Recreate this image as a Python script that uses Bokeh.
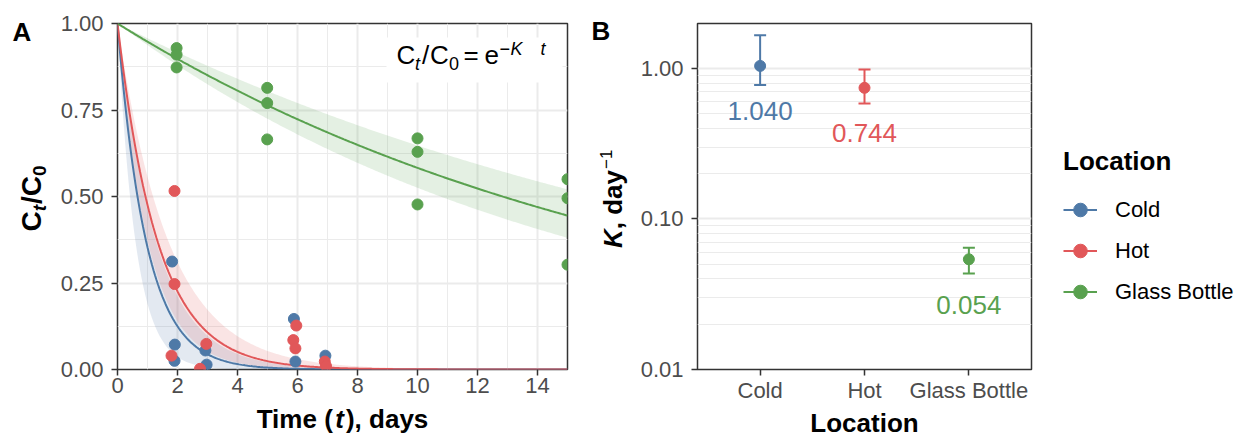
import numpy as np
from math import pi, log10
from bokeh.plotting import figure
from bokeh.layouts import row
from bokeh.models import (Range1d, FactorRange, FixedTicker, PrintfTickFormatter, Label,
                          Legend, LegendItem, ColumnDataSource, BoxAnnotation)
from bokeh.core.properties import value
from bokeh.embed import file_html
from bokeh.resources import INLINE

# ---------------- data ----------------
locations = ["Cold", "Hot", "Glass Bottle"]
colors = ["#4E79A7", "#E15759", "#59A14F"]
k_est = [1.040, 0.744, 0.054]
k_lo = [0.776, 0.585, 0.0435]
k_hi = [1.66, 0.985, 0.0644]
k_text = ["1.040", "0.744", "0.054"]

cold_t = [1.82, 1.91, 1.90, 2.93, 2.97, 5.88, 5.93, 6.93]
cold_ratio = [0.312, 0.072, 0.025, 0.055, 0.014, 0.146, 0.023, 0.040]
hot_t = [1.90, 1.90, 1.80, 2.96, 2.75, 5.96, 5.86, 5.93, 6.91, 6.95]
hot_ratio = [0.516, 0.247, 0.040, 0.074, 0.002, 0.127, 0.085, 0.061, 0.023, 0.010]
glass_t = [1.97, 1.97, 1.97, 4.99, 4.99, 4.99, 10.0, 10.0, 10.0, 15.0, 15.0, 15.0]
glass_ratio = [0.929, 0.910, 0.873, 0.814, 0.770, 0.665, 0.668, 0.629, 0.477, 0.550, 0.495, 0.303]

x_ticks_a = [0, 2, 4, 6, 8, 10, 12, 14]
x_minor_a = [1, 3, 5, 7, 9, 11, 13, 15]
y_ticks_a = [0.0, 0.25, 0.5, 0.75, 1.0]
y_minor_a = [0.125, 0.375, 0.625, 0.875]
y_ticks_b = [0.01, 0.1, 1.0]
y_minor_b = [0.02, 0.03, 0.04, 0.05, 0.06, 0.07, 0.08, 0.09,
             0.2, 0.3, 0.4, 0.5, 0.6, 0.7, 0.8, 0.9]

FONT = "Liberation Sans"
TICK_COL = "#4D4D4D"
GRID_COL = "#EBEBEB"
BORDER_COL = "#333333"

# ---------------- geometry (page px) ----------------
A_LEFT, A_W, TOP, H = 117, 450, 23, 346
A_BL, A_BR, BT, BB = 117, 18, 23, 66
B_BL, B_W, B_BR = 112, 334, 194
B_LEFT = A_BL + A_W + A_BR + B_BL
BOTTOM = TOP + H
XA_MAX = 15.0
YB_MIN, YB_MAX = 0.01, 1.99
XB_START, XB_END = -0.1, 3.1
BASE_FIX = 0.37   # label anchor vs. alphabetic baseline, in em


def fxa(px):
    return (px - A_LEFT) * XA_MAX / A_W


def fya(py):
    return (BOTTOM - py) / H


def fxb(px):
    return XB_START + (px - B_LEFT) * (XB_END - XB_START) / B_W


def fyb(py):
    return 10 ** (log10(YB_MIN) + (BOTTOM - py) / H * log10(YB_MAX / YB_MIN))


WID = {
    "normal": {"C": .722, "t": .278, "/": .278, "0": .556, "=": .584, "e": .556, "\u2212": .584,
               "K": .667, " ": .278, "1": .556},
    "bold": {"C": .722, "t": .333, "/": .278, "0": .556, "K": .722, ",": .278, " ": .278, "d": .611,
             "a": .556, "y": .556, "T": .611, "i": .278, "m": .889, "e": .556, "(": .333, ")": .333,
             "s": .556},
}


def adv(text, size, style):
    tab = WID["bold"] if "bold" in style else WID["normal"]
    return sum(tab.get(c, .556) for c in text) * size


def make_label(fx, fy, sx, sy, text, size, style, vertical=False, color="black"):
    if vertical:
        sx = sx - BASE_FIX * size
    else:
        sy = sy - BASE_FIX * size
    return Label(x=fx(sx), y=fy(sy), text=text, angle=pi / 2 if vertical else 0,
                 text_font=FONT, text_font_size=f"{size}px", text_font_style=style,
                 text_color=color, text_align="left", text_baseline="alphabetic")


def rich(p, fx, fy, x0, y0, pieces, place, vertical=False):
    pos = 0.0
    for text, size, style, shift, gap in pieces:
        pos += gap
        if vertical:
            sx, sy = x0 + shift, y0 - pos
        else:
            sx, sy = x0 + pos, y0 + shift
        p.add_layout(make_label(fx, fy, sx, sy, text, size, style, vertical), place)
        pos += adv(text, size, style)


def style_axes(p):
    for ax in (p.xaxis, p.yaxis):
        ax.axis_line_color = None
        ax.major_tick_line_color = BORDER_COL
        ax.major_tick_line_width = 1.5
        ax.major_tick_out = 6
        ax.major_tick_in = 0
        ax.minor_tick_line_color = None
        ax.major_label_text_font = FONT
        ax.major_label_text_font_size = "22px"
        ax.major_label_text_color = TICK_COL
    p.xaxis.major_label_standoff = 2
    p.yaxis.major_label_standoff = 8
    p.outline_line_color = BORDER_COL
    p.outline_line_width = 1.5
    p.outline_line_alpha = 1


# ---------------- panel A ----------------
pa = figure(x_range=Range1d(0, XA_MAX), y_range=Range1d(0, 1), frame_width=A_W, frame_height=H,
            min_border_left=A_BL, min_border_right=A_BR, min_border_top=BT, min_border_bottom=BB,
            output_backend="svg", toolbar_location=None)
style_axes(pa)
xt = FixedTicker(ticks=x_ticks_a, minor_ticks=x_minor_a)
yt = FixedTicker(ticks=y_ticks_a, minor_ticks=y_minor_a)
pa.xaxis.ticker = xt
pa.xgrid.ticker = xt
pa.yaxis.ticker = yt
pa.ygrid.ticker = yt
pa.yaxis.formatter = PrintfTickFormatter(format="%.2f")
for g in (pa.xgrid, pa.ygrid):
    g.grid_line_color = GRID_COL
    g.grid_line_width = 2
    g.minor_grid_line_color = GRID_COL
    g.minor_grid_line_width = 1

t_fine = np.linspace(0, XA_MAX, 301)
for k, lo, hi, c in zip(k_est, k_lo, k_hi, colors):
    pa.varea(x=t_fine, y1=np.exp(-hi * t_fine), y2=np.exp(-lo * t_fine), fill_color=c, fill_alpha=0.16)
for k, c in zip(k_est, colors):
    pa.line(t_fine, np.exp(-k * t_fine), line_color=c, line_width=2)
for ts, rs, c in zip([cold_t, hot_t, glass_t], [cold_ratio, hot_ratio, glass_ratio], colors):
    pa.scatter(ts, rs, size=11, fill_color=c, line_color=c)

# equation with white background (inside the frame)
pa.add_layout(BoxAnnotation(left=fxa(386), right=fxa(562), bottom=fya(82), top=fya(37),
                            fill_color="white", fill_alpha=1, line_color=None))
eq_pieces = [("C", 396, 64, 26, "normal"), ("t", 414.5, 70, 18, "italic"), ("/", 421.5, 64, 26, "normal"),
             ("C", 429.5, 64, 26, "normal"), ("0", 448.5, 70, 18, "normal"), ("=", 463, 64, 26, "normal"),
             ("e", 484, 64, 26, "normal"), ("\u2212", 499, 55, 18, "normal"),
             ("K", 510, 55, 18, "italic"), ("t", 540, 55, 18, "italic")]
for text, px, py, size, style in eq_pieces:
    pa.add_layout(make_label(fxa, fya, px, py, text, size, style))

# outer texts of A: kept in the bottom side panel (not clipped, frame unaffected)
xa_title = [("Time (", 26, "bold", 0, 0), ("t", 26, "bold italic", 0, 2), ("), days", 26, "bold", 0, 2)]
xa_w = sum(adv(t, s, st) + g for t, s, st, _, g in xa_title)
rich(pa, fxa, fya, A_LEFT + A_W / 2 - xa_w / 2, 428.5, xa_title, "below")
ya_title = [("C", 28, "bold", 0, 0), ("t", 19, "bold italic", 4, 0), ("/", 28, "bold", 0, 1),
            ("C", 28, "bold", 0, 0), ("0", 19, "bold", 4, 0)]
rich(pa, fxa, fya, 41.7, 231, ya_title, "below", vertical=True)
rich(pa, fxa, fya, 12, 40.7, [("A", 26, "bold", 0, 0)], "below")

# ---------------- panel B ----------------
pb = figure(x_range=FactorRange(*locations, range_padding=0.2 / 3, range_padding_units="percent"),
            y_range=Range1d(YB_MIN, YB_MAX), y_axis_type="log", frame_width=B_W, frame_height=H,
            min_border_left=B_BL, min_border_right=B_BR, min_border_top=BT, min_border_bottom=BB,
            output_backend="svg", toolbar_location=None)
style_axes(pb)
ybt = FixedTicker(ticks=y_ticks_b, minor_ticks=y_minor_b)
pb.yaxis.ticker = ybt
pb.ygrid.ticker = ybt
pb.yaxis.formatter = PrintfTickFormatter(format="%.2f")
pb.xgrid.visible = False
pb.ygrid.grid_line_color = GRID_COL
pb.ygrid.grid_line_width = 2
pb.ygrid.minor_grid_line_color = GRID_COL
pb.ygrid.minor_grid_line_width = 1
pb.xaxis.axis_label = "Location"
pb.xaxis.axis_label_text_font = FONT
pb.xaxis.axis_label_text_font_size = "26px"
pb.xaxis.axis_label_text_font_style = "bold"
pb.xaxis.axis_label_text_color = "black"
pb.xaxis.axis_label_standoff = 2

items = []
for loc, k, lo, hi, txt, c in zip(locations, k_est, k_lo, k_hi, k_text, colors):
    src = ColumnDataSource(dict(loc=[loc], k=[k], lo=[lo], hi=[hi], half=[k / 2], label=[txt]))
    seg = pb.segment(x0="loc", y0="lo", x1="loc", y1="hi", source=src, line_color=c, line_width=2)
    pb.scatter(x="loc", y="lo", source=src, marker="dash", size=12, line_color=c, line_width=2)
    pb.scatter(x="loc", y="hi", source=src, marker="dash", size=12, line_color=c, line_width=2)
    pt = pb.scatter(x="loc", y="k", source=src, size=11, fill_color=c, line_color=c)
    pb.text(x="loc", y="half", text="label", source=src, text_align="center", text_baseline="middle",
            text_font=value(FONT), text_font_size="26px", text_color=c)
    items.append(LegendItem(label=loc, renderers=[seg, pt]))

legend = Legend(items=items, title="Location", location=(32, 57), orientation="vertical",
                title_text_font=FONT, title_text_font_size="26px", title_text_font_style="bold",
                title_text_color="black", title_standoff=12,
                label_text_font=FONT, label_text_font_size="22px", label_text_color="black",
                glyph_width=34, glyph_height=41, label_height=41, spacing=0, padding=5, margin=0,
                label_standoff=18, border_line_color=None, background_fill_alpha=0)
pb.add_layout(legend, "right")

yb_title = [("K", 26, "bold italic", 0, 0), (", day", 26, "bold", 0, 0), ("\u22121", 17, "normal", -10, 1)]
rich(pb, fxb, fyb, 622, 247.5, yb_title, "below", vertical=True)
rich(pb, fxb, fyb, 591, 40, [("B", 26, "bold", 0, 0)], "below")

layout = row(pa, pb)
open("out.html", "w").write(file_html(layout, INLINE))
